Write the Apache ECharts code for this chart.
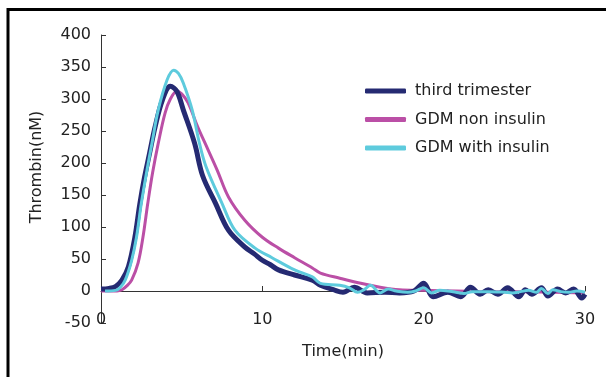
<!DOCTYPE html>
<html>
<head>
<meta charset="utf-8">
<script src="https://cdn.jsdelivr.net/npm/echarts@6/dist/echarts.min.js"></script>
<style>
  html, body { margin: 0; padding: 0; background: #fff; }
  #chart { width: 606px; height: 377px; }
</style>
</head>
<body>
<div id="chart"></div>
<script>
// time (min) and thrombin (nM)
const thirdTime = [0, 0.5, 0.9, 1.3, 1.7, 2.1, 2.4, 2.7, 3.0, 3.35, 3.8, 4.3, 4.7, 5.1, 5.8, 6.3, 7.1, 7.9, 8.9, 9.5, 10, 10.5, 11, 12, 13.1, 13.6, 14.4, 15, 15.7, 16.5, 17.6, 18.5, 19.4, 20, 20.6, 21.5, 22.3, 22.9, 23.5, 24, 24.6, 25.2, 25.9, 26.3, 26.7, 27.3, 27.7, 28.3, 28.8, 29.3, 29.8, 30];
const thirdTrimester = [3, 4, 7, 17, 38, 84, 135, 178, 214, 256, 298, 320, 312, 283, 231, 180, 137, 95, 69, 58, 48, 41, 33, 25, 17, 9, 2, -2, 6, -3, -2, -3, 0, 12, -9, -2, -9, 6, -5, 2, -5, 5, -9, 2, -5, 5, -8, 3, -3, 3, -11, -5];

const nonInsTime = [0, 0.5, 1.0, 1.3, 1.6, 1.9, 2.3, 2.6, 2.9, 3.2, 3.55, 3.97, 4.3, 4.7, 5.0, 5.4, 6.0, 6.45, 7.2, 7.9, 8.9, 10, 11, 12, 13.1, 13.6, 14.8, 16.1, 17.3, 18.5, 20, 22, 24, 26, 28, 30];
const gdmNonInsulin = [0, 0, 0, 2, 8, 17, 44, 84, 137, 185, 231, 278, 300, 312, 308, 294, 256, 231, 189, 147, 111, 84, 67, 52, 36, 28, 20, 12, 6, 2, 1, 0, -1, -1, -2, -3];

const withInsTime = [0.25, 0.9, 1.2, 1.5, 1.9, 2.2, 2.5, 2.85, 3.16, 3.55, 4.1, 4.5, 4.8, 5.1, 5.65, 6.1, 6.5, 7.5, 8.3, 9.55, 10.6, 12, 13.1, 13.6, 14.8, 15.4, 15.9, 16.3, 16.7, 17.3, 17.8, 18.3, 19, 19.5, 20, 20.5, 21, 21.5, 22, 22.5, 23, 24, 25, 25.5, 26, 26.5, 27, 27.3, 27.7, 28, 28.5, 29, 29.5, 30];
const gdmWithInsulin = [0, 1, 6, 17, 48, 84, 137, 189, 231, 283, 330, 345, 340, 325, 283, 231, 195, 137, 95, 67, 52, 33, 22, 12, 9, 5, -2, 2, 9, -3, 3, 0, -2, 0, 5, -3, 1, 0, -2, -4, -1, -1, -2, -3, -1, 1, -2, 4, -4, 2, -1, -2, 0, -2];

const yTicks = [-50, 400, 50];
const xTicks = [0, 30, 10];

const zip = (t, v) => t.map((x, i) => [x, v[i]]);

const chart = echarts.init(document.getElementById('chart'));
const textColor = '#222';
const font = 'DejaVu Sans, sans-serif';

chart.setOption({
  animation: false,
  textStyle: { fontFamily: font },
  graphic: [{
    type: 'polyline',
    shape: { points: [[8, 400], [8, 9.5], [620, 9.5]] },
    style: { stroke: '#000', lineWidth: 3, fill: null }
  }],
  grid: { left: 101, right: 21, top: 35, bottom: 54, containLabel: false, outerBoundsMode: 'none' },
  legend: {
    orient: 'vertical',
    left: 360,
    top: 78,
    icon: 'roundRect',
    itemWidth: 41,
    itemHeight: 5,
    itemGap: 12.5,
    data: ['third trimester', 'GDM non insulin', 'GDM with insulin'],
    textStyle: { color: textColor, fontSize: 16, fontFamily: font, padding: [0, 0, 0, 4] }
  },
  xAxis: {
    type: 'value',
    min: xTicks[0], max: xTicks[1], interval: xTicks[2],
    name: 'Time(min)',
    nameLocation: 'middle',
    nameGap: 21,
    nameTextStyle: { color: textColor, fontSize: 16 },
    axisLine: { onZero: true, lineStyle: { color: '#333', width: 1 } },
    axisTick: { inside: true, length: 5, lineStyle: { color: '#333' } },
    axisLabel: { color: textColor, fontSize: 16, margin: -11 },
    splitLine: { show: false }
  },
  yAxis: {
    type: 'value',
    min: yTicks[0], max: yTicks[1], interval: yTicks[2],
    name: 'Thrombin(nM)',
    nameLocation: 'middle',
    nameRotate: 90,
    nameGap: 56,
    nameTextStyle: { color: textColor, fontSize: 16, padding: [0, 0, 0, 24] },
    axisLine: { show: true, lineStyle: { color: '#333', width: 1 } },
    axisTick: { show: true, inside: true, length: 5, lineStyle: { color: '#333' } },
    axisLabel: { color: textColor, fontSize: 16, margin: 10 },
    splitLine: { show: false }
  },
  series: [
    {
      name: 'third trimester', type: 'line', z: 3, smooth: 0.35, symbol: 'none',
      data: zip(thirdTime, thirdTrimester),
      lineStyle: { color: '#252a72', width: 5 },
      itemStyle: { color: '#252a72' }
    },
    {
      name: 'GDM non insulin', type: 'line', z: 2, smooth: 0.35, symbol: 'none',
      data: zip(nonInsTime, gdmNonInsulin),
      lineStyle: { color: '#bb4fa6', width: 3 },
      itemStyle: { color: '#bb4fa6' }
    },
    {
      name: 'GDM with insulin', type: 'line', z: 4, smooth: 0.35, symbol: 'none',
      data: zip(withInsTime, gdmWithInsulin),
      lineStyle: { color: '#5ecbdd', width: 3 },
      itemStyle: { color: '#5ecbdd' }
    }
  ]
});
</script>
</body>
</html>
